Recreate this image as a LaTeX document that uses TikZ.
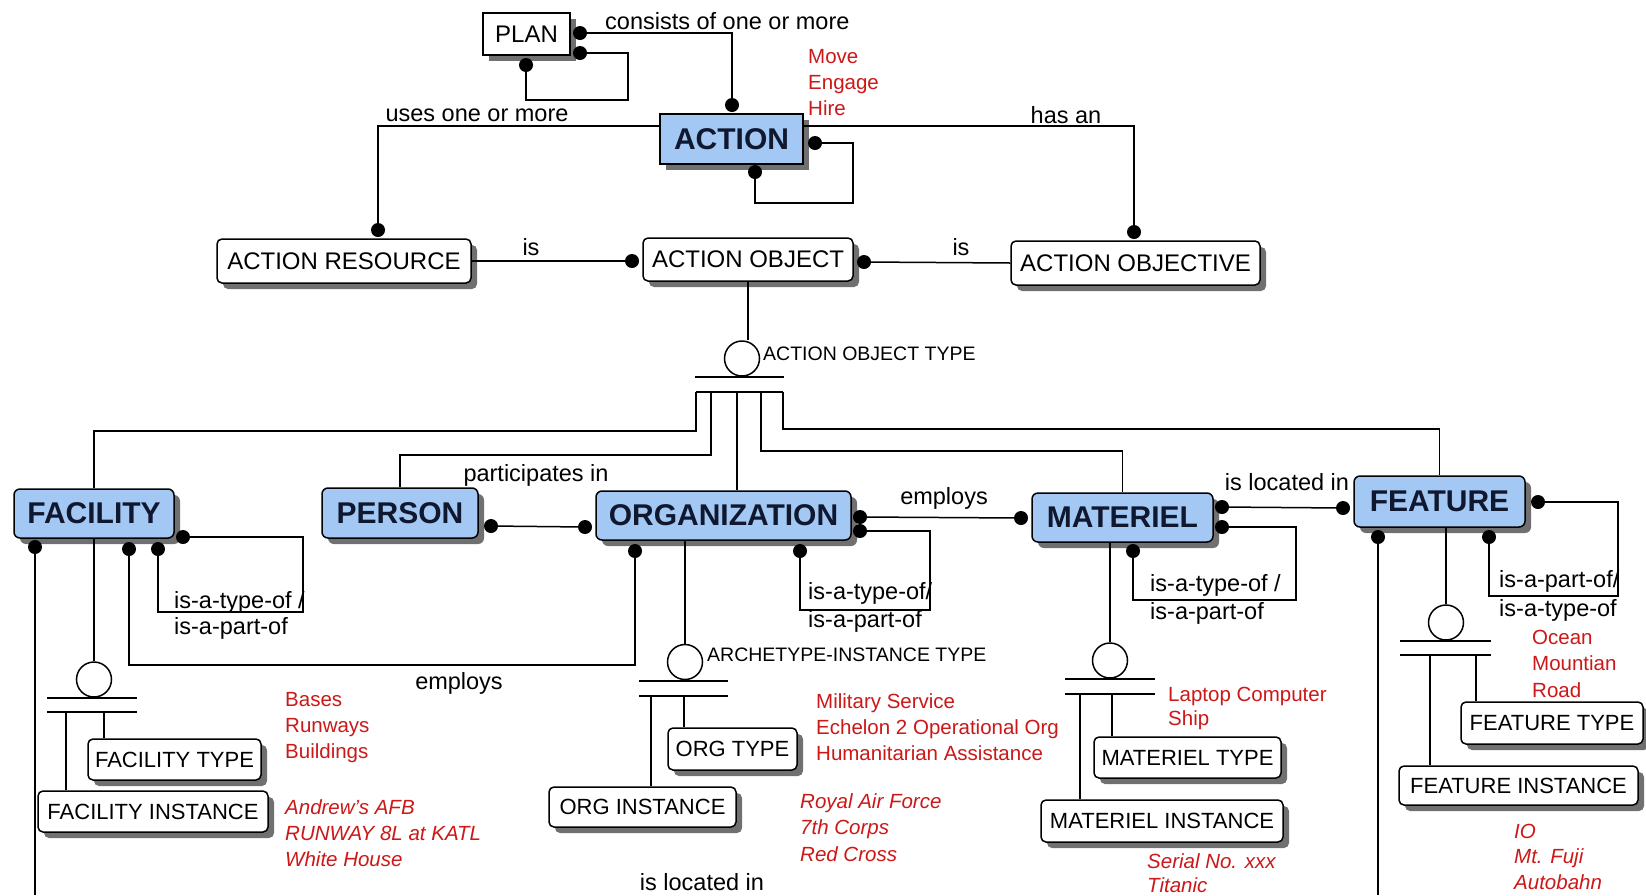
\documentclass[tikz,border=0pt]{standalone}
\usepackage{fontspec}
\setmainfont{Liberation Sans}
\usetikzlibrary{shadows}

\definecolor{entblue}{RGB}{164,200,244}
\definecolor{entink}{RGB}{16,24,48}
\definecolor{exred}{RGB}{204,24,24}
\definecolor{shadegray}{RGB}{112,112,112}

\tikzset{
  conn/.style={line width=1.5pt},
  boxbase/.style={draw, line width=1.5pt, inner sep=0pt, fill=white,
    drop shadow={shadow xshift=6pt, shadow yshift=-6pt, fill=shadegray, opacity=1}},
  plainbox/.style={boxbase, sharp corners, font=\fontsize{24}{28}\selectfont},
  topent/.style={boxbase, rounded corners=5pt, font=\fontsize{24}{28}\selectfont},
  subent/.style={boxbase, rounded corners=5pt, font=\fontsize{22}{26}\selectfont},
  mainent/.style={boxbase, rounded corners=6pt, fill=entblue, text=entink,
    font=\bfseries\fontsize{30}{34}\selectfont},
  rellbl/.style={font=\fontsize{23.5}{28}\selectfont, inner sep=0pt},
  smalllbl/.style={font=\fontsize{19.5}{23}\selectfont, inner sep=0pt, anchor=west},
  exline/.style={text=exred, font=\fontsize{20.5}{25}\selectfont, inner sep=0pt, anchor=base west},
  exital/.style={exline, font=\itshape\fontsize{20.5}{25}\selectfont},
  blob/.style={circle, fill=black, inner sep=0pt, minimum size=14pt},
  subc/.style={circle, draw, line width=1.5pt, inner sep=0pt, minimum size=35pt},
}

\begin{document}
\begin{tikzpicture}[x=1pt, y=-1pt]
\useasboundingbox (0,0) rectangle (1646,895);
\fill[white] (0,0) rectangle (1646,895);
\coordinate (bottomL) at (0,895);

% ---------- entities ----------
\node[plainbox, minimum width=87pt, minimum height=42pt] (plan) at (526.5,34) {PLAN};
\node[mainent, sharp corners, minimum width=143pt, minimum height=50pt] (action) at (731.5,139) {ACTION};

\node[topent, minimum width=254pt, minimum height=44pt] (ares) at (344,261) {ACTION RESOURCE};
\node[topent, minimum width=210pt, minimum height=43pt] (aobj) at (748,259.5) {ACTION OBJECT};
\node[topent, minimum width=249pt, minimum height=44pt] (aobjv) at (1135.5,263) {ACTION OBJECTIVE};

\node[mainent, minimum width=160pt, minimum height=49pt] (fac) at (94,513.5) {FACILITY};
\node[mainent, minimum width=156pt, minimum height=50pt] (per) at (400,513) {PERSON};
\node[mainent, minimum width=255pt, minimum height=49pt] (org) at (723.5,515.5) {ORGANIZATION};
\node[mainent, minimum width=181pt, minimum height=49pt] (mat) at (1122.5,517.5) {MATERIEL};
\node[mainent, minimum width=171pt, minimum height=51pt] (fea) at (1439.5,501.5) {FEATURE};

\node[subent, minimum width=173pt, minimum height=41pt] (factype) at (174.5,759.5) {FACILITY TYPE};
\node[subent, minimum width=230pt, minimum height=41pt] (facinst) at (153,811.5) {FACILITY INSTANCE};
\node[subent, minimum width=129pt, minimum height=42pt] (orgtype) at (732.5,749) {ORG TYPE};
\node[subent, minimum width=187pt, minimum height=40pt] (orginst) at (642.5,807) {ORG INSTANCE};
\node[subent, minimum width=187pt, minimum height=41pt] (mattype) at (1187.5,757.5) {MATERIEL TYPE};
\node[subent, minimum width=242pt, minimum height=42pt] (matinst) at (1162,821) {MATERIEL INSTANCE};
\node[subent, minimum width=182pt, minimum height=42pt] (featype) at (1552,723) {FEATURE TYPE};
\node[subent, minimum width=239pt, minimum height=39pt] (feainst) at (1518.5,785.5) {FEATURE INSTANCE};

% ---------- category circles ----------
\node[subc] (aotc) at (742,358.5) {};
\node[subc] (facc) at (94,679.5) {};
\node[subc] (orgc) at (685,662) {};
\node[subc] (matc) at (1110,660.5) {};
\node[subc] (feac) at (1446,622.5) {};

% ---------- relationship ends ----------
\node[blob] (planR1) at (580,33) {};
\node[blob] (planR2) at (580,53) {};
\node[blob] (planB) at (526,65) {};
\node[blob] (actT) at (732,105) {};
\node[blob] (actR) at (815,143) {};
\node[blob] (actB) at (755,172) {};
\node[blob] (aresT) at (378,230) {};
\node[blob] (aobjL) at (632,261) {};
\node[blob] (aobjR) at (864,262) {};
\node[blob] (aobjvT) at (1134,232) {};
\node[blob] (facBL) at (35,547) {};
\node[blob] (facB1) at (129,549) {};
\node[blob] (facB2) at (158,549) {};
\node[blob] (facR) at (183,537) {};
\node[blob] (perR) at (491,526) {};
\node[blob] (orgL) at (585,527) {};
\node[blob] (orgR1) at (860,517) {};
\node[blob] (orgR2) at (860,531) {};
\node[blob] (orgB1) at (635,551) {};
\node[blob] (orgB2) at (800,551) {};
\node[blob] (matL) at (1021,518) {};
\node[blob] (matR1) at (1222,507) {};
\node[blob] (matR2) at (1222,527) {};
\node[blob] (matB) at (1133,551) {};
\node[blob] (feaL) at (1343,508) {};
\node[blob] (feaR) at (1538,502) {};
\node[blob] (feaB1) at (1378,537) {};
\node[blob] (feaB2) at (1489,537) {};

% ---------- loop corners ----------
\coordinate (planLoop) at (628,100);
\coordinate (actLoop) at (853,203);
\coordinate (facLoop) at (303,612);
\coordinate (orgLoop) at (930,610);
\coordinate (matLoop) at (1296,600);
\coordinate (feaLoop) at (1618,596);

% ---------- connectors ----------
\draw[conn] (planR1) -| (actT);
\draw[conn] (planR2) -| (planLoop) -| (planB);
\draw[conn] (actR) -| (actLoop) -| (actB);
\draw[conn] ([yshift=13pt]action.west) -| (aresT);
\draw[conn] ([yshift=13pt]action.east) -| (aobjvT);
\draw[conn] (ares.east) -- (aobjL);
\draw[conn] (aobjR) -- (aobjv.west);

\draw[conn] (aobj.south) -- (aobj.south |- aotc.north);
\draw[conn] (695,377) -- (784,377);
\coordinate (aotJ1) at (696,392);
\coordinate (aotJ2) at (711,392);
\coordinate (aotJ3) at (737,392);
\coordinate (aotJ4) at (761,392);
\coordinate (aotJ5) at (783,392);
\draw[conn] (aotJ1) -- (aotJ5);
\draw[conn] (aotJ1) -- ++(0,39) -| (fac.north);
\draw[conn] (aotJ2) -- ++(0,63) -| (per.north);
\draw[conn] (aotJ3) -- (aotJ3 |- org.north);
\draw[conn] (aotJ4) -- ++(0,59) -| (mat.north);
\draw[conn] (aotJ5) -- ++(0,37) -| (fea.north);

\draw[conn] (facBL) -- (facBL |- bottomL);
\draw[conn] (feaB1) -- (feaB1 |- bottomL);
\draw[conn] (facB1) -- ++(0,116) -| (orgB1);
\draw[conn] (facR) -| (facLoop) -| (facB2);
\draw[conn] (perR) -- (orgL);
\draw[conn] (orgR1) -- (matL);
\draw[conn] (orgR2) -| (orgLoop) -| (orgB2);
\draw[conn] (matR1) -- (feaL);
\draw[conn] (matR2) -| (matLoop) -| (matB);
\draw[conn] (feaR) -| (feaLoop) -| (feaB2);

% ---------- category clusters ----------
% facility
\draw[conn] (fac.south -| facc) -- (facc.north);
\draw[conn] (47,698) -- (137,698);
\draw[conn] (47,712) -- (137,712);
\coordinate (facJ1) at (66,712);
\coordinate (facJ2) at (104,712);
\draw[conn] (facJ1) -- (facJ1 |- facinst.north);
\draw[conn] (facJ2) -- (facJ2 |- factype.north);
% organization
\draw[conn] (org.south -| orgc) -- (orgc.north);
\draw[conn] (639,681) -- (728,681);
\draw[conn] (639,696) -- (728,696);
\coordinate (orgJ1) at (651,696);
\coordinate (orgJ2) at (684,696);
\draw[conn] (orgJ1) -- (orgJ1 |- orginst.north);
\draw[conn] (orgJ2) -- (orgJ2 |- orgtype.north);
% materiel
\draw[conn] (mat.south -| matc) -- (matc.north);
\draw[conn] (1065,679) -- (1155,679);
\draw[conn] (1065,694) -- (1155,694);
\coordinate (matJ1) at (1080,694);
\coordinate (matJ2) at (1112,694);
\draw[conn] (matJ1) -- (matJ1 |- matinst.north);
\draw[conn] (matJ2) -- (matJ2 |- mattype.north);
% feature
\draw[conn] (fea.south -| feac) -- (feac.north);
\draw[conn] (1400,641) -- (1491,641);
\draw[conn] (1400,655) -- (1491,655);
\coordinate (feaJ1) at (1430,655);
\coordinate (feaJ2) at (1476,655);
\draw[conn] (feaJ1) -- (feaJ1 |- feainst.north);
\draw[conn] (feaJ2) -- (feaJ2 |- featype.north);

% ---------- relationship labels ----------
\node[rellbl, anchor=base west] (lblConsists) at (605,29) {consists of one or more};
\node[rellbl, anchor=base] (lblUses) at (477,121) {uses one or more};
\node[rellbl, anchor=base] (lblHas) at (1066,123) {has an};
\node[rellbl, anchor=base] (lblIsA) at (531,255) {is};
\node[rellbl, anchor=base] (lblIsB) at (961,255) {is};
\node[rellbl, anchor=base] (lblPart) at (536,481) {participates in};
\node[rellbl, anchor=base] (lblEmpA) at (944,504) {employs};
\node[rellbl, anchor=base] (lblLocA) at (1287,490) {is located in};
\node[rellbl, anchor=base] (lblEmpB) at (459,689) {employs};
\node[rellbl, anchor=base] (lblLocB) at (702,890) {is located in};

\node[rellbl, anchor=base west] (facRecA) at (174,608) {is-a-type-of /};
\node[rellbl, anchor=base west] (facRecB) at (174,634) {is-a-part-of};
\node[rellbl, anchor=base west] (orgRecA) at (808,599) {is-a-type-of/};
\node[rellbl, anchor=base west] (orgRecB) at (808,627) {is-a-part-of};
\node[rellbl, anchor=base west] (matRecA) at (1150,591) {is-a-type-of /};
\node[rellbl, anchor=base west] (matRecB) at (1150,619) {is-a-part-of};
\node[rellbl, anchor=base west] (feaRecA) at (1499,587) {is-a-part-of/};
\node[rellbl, anchor=base west] (feaRecB) at (1499,616) {is-a-type-of};

\node[smalllbl] (lblAOT) at (763,354) {ACTION OBJECT TYPE};
\node[smalllbl] (lblAIT) at (707,655) {ARCHETYPE-INSTANCE TYPE};

% ---------- example values ----------
\foreach \t [count=\i] in {Move,Engage,Hire}
  \node[exline] (exAct\i) at (808,{63+26*(\i-1)}) {\t};
\foreach \t [count=\i] in {Bases,Runways,Buildings}
  \node[exline] (exFacT\i) at (285,{706+26*(\i-1)}) {\t};
\foreach \t [count=\i] in {Andrew's AFB,RUNWAY 8L at KATL,White House}
  \node[exital] (exFacI\i) at (285,{814+26*(\i-1)}) {\t};
\foreach \t [count=\i] in {Military Service,Echelon 2 Operational Org,Humanitarian Assistance}
  \node[exline] (exOrgT\i) at (816,{708+26*(\i-1)}) {\t};
\foreach \t [count=\i] in {Royal Air Force,7th Corps,Red Cross}
  \node[exital] (exOrgI\i) at (800,{808+26.5*(\i-1)}) {\t};
\foreach \t [count=\i] in {Laptop Computer,Ship}
  \node[exline] (exMatT\i) at (1168,{701+24.5*(\i-1)}) {\t};
\foreach \t [count=\i] in {Serial No. xxx,Titanic}
  \node[exital] (exMatI\i) at (1147,{868+24*(\i-1)}) {\t};
\foreach \t [count=\i] in {Ocean,Mountian,Road}
  \node[exline] (exFeaT\i) at (1532,{644+26.5*(\i-1)}) {\t};
\foreach \t [count=\i] in {IO,Mt. Fuji,Autobahn}
  \node[exital] (exFeaI\i) at (1514,{838+25.5*(\i-1)}) {\t};
\end{tikzpicture}
\end{document}
